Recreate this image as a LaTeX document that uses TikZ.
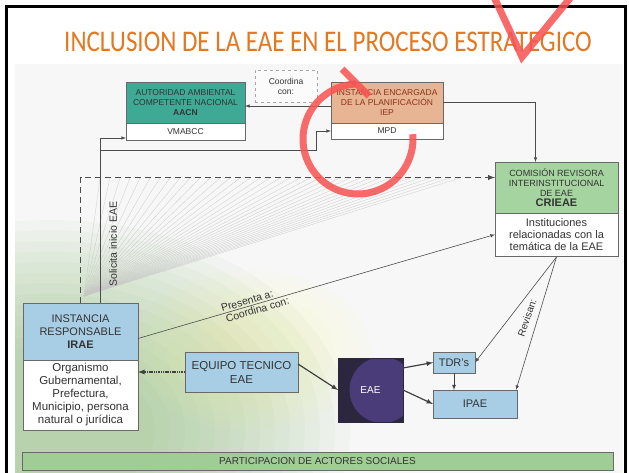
\documentclass[tikz,border=0pt]{standalone}
\usepackage{fontspec}
\setmainfont{Liberation Sans}
\newfontfamily\titlefont{Carlito}
\usetikzlibrary{positioning}
\definecolor{tealtop}{RGB}{62,170,150}
\definecolor{peach}{RGB}{232,181,148}
\definecolor{mint}{RGB}{165,212,160}
\definecolor{skyb}{RGB}{168,206,230}
\definecolor{bord}{RGB}{105,105,105}
\definecolor{eaedark}{RGB}{44,38,62}
\definecolor{eaepurp}{RGB}{74,60,120}
\definecolor{barg}{RGB}{160,204,150}
\definecolor{titleor}{RGB}{228,120,32}
\definecolor{redpen}{RGB}{248,82,82}
\definecolor{bggreen}{RGB}{135,185,115}
\begin{document}
\begin{tikzpicture}[x=1pt,y=-1pt,
  box/.style={draw=bord, line width=0.6pt, outer sep=0pt, inner sep=1pt, align=center, text=black!80},
  small/.style={font=\fontsize{8.5}{10}\selectfont},
  big/.style={font=\fontsize{11}{13}\selectfont},
  conn/.style={draw=black!70, line width=0.6pt, -latex},
  flow/.style={draw=black!75, line width=1.2pt, -latex},
  dashconn/.style={draw=black!70, line width=1.4pt, dash pattern=on 6pt off 4pt, -latex},
  dotconn/.style={draw=black!75, line width=1.3pt, dash pattern=on 1.5pt off 0.8pt, -latex},
  fan/.style={gray!45, line width=0.25pt},
  redline/.style={redpen, line width=7pt, opacity=0.85}]
\useasboundingbox (0,0) rectangle (629,473);
\fill[white] (0,0) rectangle (629,473);
\begin{scope}
\clip (15,64) rectangle (623,473);
\fill[gray!6] (15,64) rectangle (623,473);
\foreach \s in {1.0,0.95,...,0.3}
  \fill[bggreen, opacity=0.05] (50,430) ellipse ({300pt*\s} and {210pt*\s});
\foreach \s in {1.0,0.9,...,0.3}
  \fill[yellow!45, opacity=0.04] (250,350) ellipse ({120pt*\s} and {80pt*\s});
\end{scope}
\draw[line width=3pt] (6.5,6.5) rectangle (625.5,490);
\node[font=\titlefont\fontsize{25}{28}\selectfont, text=titleor, yscale=1.2, transform shape] (titulo) at (328,42) {INCLUSION DE LA EAE EN EL PROCESO ESTRATEGICO};
\foreach \i in {0,...,36}
  \draw[fan] (84,296) -- (100+10*\i,178);

\node[box, small, fill=tealtop, minimum width=119pt, minimum height=41pt] (aacn) at (185.5,102.5) {AUTORIDAD AMBIENTAL\\COMPETENTE NACIONAL\\\textbf{AACN}};
\node[box, small, fill=white, minimum width=119pt, minimum height=17pt, below=0pt of aacn] (aacnB) {VMABCC};
\node[box, small, draw=gray!70, dashed, fill=gray!3, minimum width=62pt, minimum height=32pt] (coordina) at (286,86) {Coordina\\con:};
\node[box, small, fill=peach, text=black!60!red!60!brown, minimum width=112pt, minimum height=41pt] (iep) at (387,102.5) {INSTANCIA ENCARGADA\\DE LA PLANIFICACIÓN\\IEP};
\node[box, small, fill=white, minimum width=112pt, minimum height=16pt, below=0pt of iep] (iepB) {MPD};
\node[box, font=\fontsize{9}{10}\selectfont, fill=mint, minimum width=123pt, minimum height=51pt] (crieae) at (556.5,187.5) {COMISIÓN REVISORA\\INTERINSTITUCIONAL\\DE EAE\\{\fontsize{11}{12}\selectfont\bfseries CRIEAE}};
\node[box, font=\fontsize{11}{12}\selectfont, fill=white, minimum width=123pt, minimum height=43pt, below=0pt of crieae] (crieaeB) {Instituciones\\relacionadas con la\\temática de la EAE};
\node[box, big, fill=skyb, minimum width=115pt, minimum height=57pt] (irae) at (80.5,331.5) {INSTANCIA\\RESPONSABLE\\\textbf{IRAE}};
\node[box, font=\fontsize{11.5}{13}\selectfont, fill=white, minimum width=115pt, minimum height=70pt, below=0pt of irae] (iraeB) {Organismo\\Gubernamental,\\Prefectura,\\Municipio, persona\\natural o jurídica};
\node[box, font=\fontsize{11.5}{14}\selectfont, fill=skyb, minimum width=113pt, minimum height=40pt] (equipo) at (241.5,372) {EQUIPO TECNICO\\EAE};
\node[box, draw=eaedark, fill=eaedark, text=white, font=\fontsize{10}{12}\selectfont, minimum width=65pt, minimum height=64pt,
  path picture={\fill[eaepurp] ([xshift=12pt]path picture bounding box.center) circle (33pt);}] (eae) at (370.5,390) {EAE};
\node[box, big, fill=skyb, minimum width=42pt, minimum height=21pt] (tdr) at (454,362.5) {TDR's};
\node[box, big, fill=skyb, minimum width=84pt, minimum height=28pt] (ipae) at (475,404) {IPAE};
\node[box, font=\fontsize{10}{12}\selectfont, fill=barg, minimum width=591pt, minimum height=18pt] (actores) at (317.5,461) {PARTICIPACION DE ACTORES SOCIALES};

\coordinate (solA) at (100,303);
\coordinate (bend) at (316,150);
\draw[conn] ([yshift=-3.5pt]iep.west) -- ([yshift=-3.5pt]aacn.east);
\draw[conn] (iep.east) -| ([xshift=-21pt]crieae.north);
\draw[conn] (solA) |- ([yshift=2pt]aacnB.south west);
\draw[conn] (solA) |- (bend) |- (iepB.west);
\node[font=\fontsize{10.5}{12}\selectfont, rotate=90, text=black!80] (solicita) at (113,244) {Solicita inicio EAE};
\draw[dashconn] (irae.north) |- ([yshift=10pt]crieae.west);
\draw[conn] ([yshift=-7pt]irae.east) -- (crieaeB.west)
  node[pos=0.31, sloped, above, inner sep=1.5pt, font=\fontsize{10.5}{12}\selectfont, text=black!80] (presenta) {Presenta a:}
  node[pos=0.33, sloped, below, inner sep=1.5pt, font=\fontsize{10.5}{12}\selectfont, text=black!80] (coordcon) {Coordina con:};
\draw[dotconn] (equipo.west) -- (equipo.west -| iraeB.east);
\draw[flow] ([yshift=8pt]equipo.east) -- (eae.west);
\draw[flow] ([yshift=22pt]eae.east) -- (tdr.west);
\draw[flow] (eae.east) -- (ipae.west);
\draw[flow, line width=0.8pt] (tdr.south) -- (tdr.south |- ipae.north);
\draw[conn] ([yshift=-1pt]crieaeB.south) -- (tdr.east);
\draw[conn] ([yshift=-1pt]crieaeB.south) -- ([xshift=-1pt]ipae.north east);
\node[font=\fontsize{10}{12}\selectfont, rotate=71, text=black!80] (revisan) at (527,318) {Revisan:};

\draw[redline] (494,-3) -- (522,57) -- (571,-3);
\draw[redline] plot[domain=92:365, samples=80] ({358+55*cos(\x)},{139-55*sin(\x)});
\draw[redline] (342,69) -- (369,96);
\end{tikzpicture}
\end{document}
